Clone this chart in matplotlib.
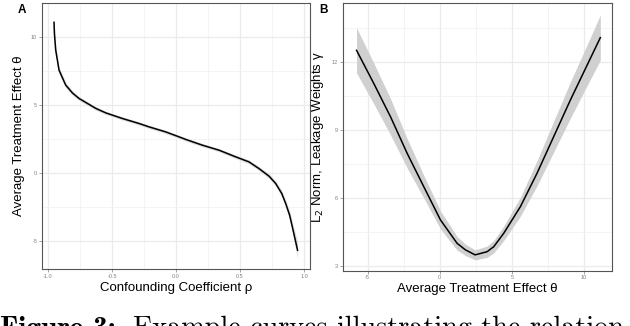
import numpy as np
import matplotlib
matplotlib.use("Agg")
import matplotlib.pyplot as plt

# panel A: confounding coefficient vs average treatment effect
rho = [-0.953, -0.95, -0.94, -0.927, -0.914, -0.862, -0.81, -0.758, -0.627, -0.549,
       -0.42, -0.289, -0.21, -0.08, 0.023, 0.076, 0.205, 0.336, 0.466, 0.57, 0.648,
       0.727, 0.779, 0.826, 0.857, 0.888, 0.909, 0.95]
ate = [11.06, 10.25, 9.02, 8.29, 7.55, 6.45, 5.88, 5.47, 4.74, 4.41,
       4.0, 3.63, 3.38, 3.01, 2.65, 2.46, 2.04, 1.67, 1.18, 0.81, 0.32,
       -0.24, -0.78, -1.51, -2.25, -3.11, -3.97, -5.68]
ate_hw = [0.6, 0.5, 0.4, 0.3, 0.25, 0.2, 0.17, 0.15, 0.13, 0.12,
          0.12, 0.12, 0.12, 0.12, 0.12, 0.12, 0.12, 0.12, 0.13, 0.14, 0.15,
          0.17, 0.2, 0.23, 0.27, 0.32, 0.4, 0.6]

# panel B: average treatment effect vs L2 norm of leakage weights
theta = [-5.77, -4.57, -3.41, -2.26, -1.11, 0.05, 1.2, 1.78, 2.45, 3.28, 3.74,
         4.43, 5.59, 6.74, 7.89, 9.05, 10.21, 11.13]
gamma = [12.53, 11.06, 9.59, 7.98, 6.51, 5.04, 4.01, 3.72, 3.5, 3.64, 3.86,
         4.45, 5.63, 7.10, 8.71, 10.33, 11.87, 13.09]
gamma_hw = [1.0, 0.9, 0.8, 0.65, 0.5, 0.4, 0.3, 0.25, 0.22, 0.25, 0.27,
            0.32, 0.42, 0.55, 0.68, 0.8, 0.9, 1.0]

W, H = 630, 326
fig = plt.figure(figsize=(W / 100, H / 100), dpi=100)
plt.rcParams['font.family'] = ['Liberation Sans', 'DejaVu Sans']


def box(l, t, r, b):
    return [l / W, 1 - b / H, (r - l) / W, (b - t) / H]


def style(ax, xmaj, xmin, ymaj, ymin):
    ax.set_xticks(xmaj)
    ax.set_xticks(xmin, minor=True)
    ax.set_yticks(ymaj)
    ax.set_yticks(ymin, minor=True)
    ax.grid(which='major', color='#ebebeb', lw=0.9)
    ax.grid(which='minor', color='#f2f2f2', lw=0.6)
    ax.set_axisbelow(True)
    ax.tick_params(which='major', length=2, width=0.5, color='#808080',
                   labelsize=4, labelcolor='#808080', pad=1.5)
    ax.tick_params(which='minor', length=0)
    for s in ax.spines.values():
        s.set_color('#555555')
        s.set_linewidth(0.8)


ax1 = fig.add_axes(box(42, 3, 310, 269))
lo = [a - h for a, h in zip(ate, ate_hw)]
hi = [a + h for a, h in zip(ate, ate_hw)]
ax1.fill_between(rho, lo, hi, color='#dddddd', lw=0)
ax1.plot(rho, ate, color='black', lw=1.1)
ax1.set_xlim(-1.047, 1.047)
ax1.set_ylim(-7.06, 12.48)
style(ax1, [-1.0, -0.5, 0.0, 0.5, 1.0], [-0.75, -0.25, 0.25, 0.75],
      [-5, 0, 5, 10], [-2.5, 2.5, 7.5])
ax1.set_xticklabels(['-1.0', '-0.5', '0.0', '0.5', '1.0'])
ax1.set_yticklabels(['-5', '0', '5', '10'])
ax1.set_xlabel('Confounding Coefficient ρ', fontsize=9.5, labelpad=2)
ax1.set_ylabel('Average Treatment Effect θ', fontsize=9.5, labelpad=4)

ax2 = fig.add_axes(box(343, 3, 612, 270.5))
lo = [g - h for g, h in zip(gamma, gamma_hw)]
hi = [g + h for g, h in zip(gamma, gamma_hw)]
ax2.fill_between(theta, lo, hi, color='#d0d0d0', lw=0)
ax2.plot(theta, gamma, color='black', lw=1.1)
ax2.set_xlim(-6.71, 11.94)
ax2.set_ylim(2.81, 14.62)
style(ax2, [-5, 0, 5, 10], [-2.5, 2.5, 7.5], [3, 6, 9, 12], [4.5, 7.5, 10.5, 13.5])
ax2.set_xticklabels(['-5', '0', '5', '10'])
ax2.set_yticklabels(['3', '6', '9', '12'])
ax2.set_xlabel('Average Treatment Effect θ', fontsize=9.5, labelpad=2)
ax2.set_ylabel('L$_2$ Norm, Leakage Weights γ', fontsize=9.5, labelpad=4)

fig.text(18 / W, 1 - 4 / H, 'A', fontsize=8.5, fontweight='bold', va='top')
fig.text(319 / W, 1 - 4 / H, 'B', fontsize=8.5, fontweight='bold', va='top')

# caption (cut off at the bottom like the reference)
fig.text(0.0, 1 - 316 / H, 'Figure 3:', family='cmb10', fontsize=21, va='top')
fig.text(133 / W, 1 - 316 / H, 'Example curves illustrating the relation',
         family='cmr10', fontsize=20.3, va='top')

fig.savefig('out.png', dpi=100)
